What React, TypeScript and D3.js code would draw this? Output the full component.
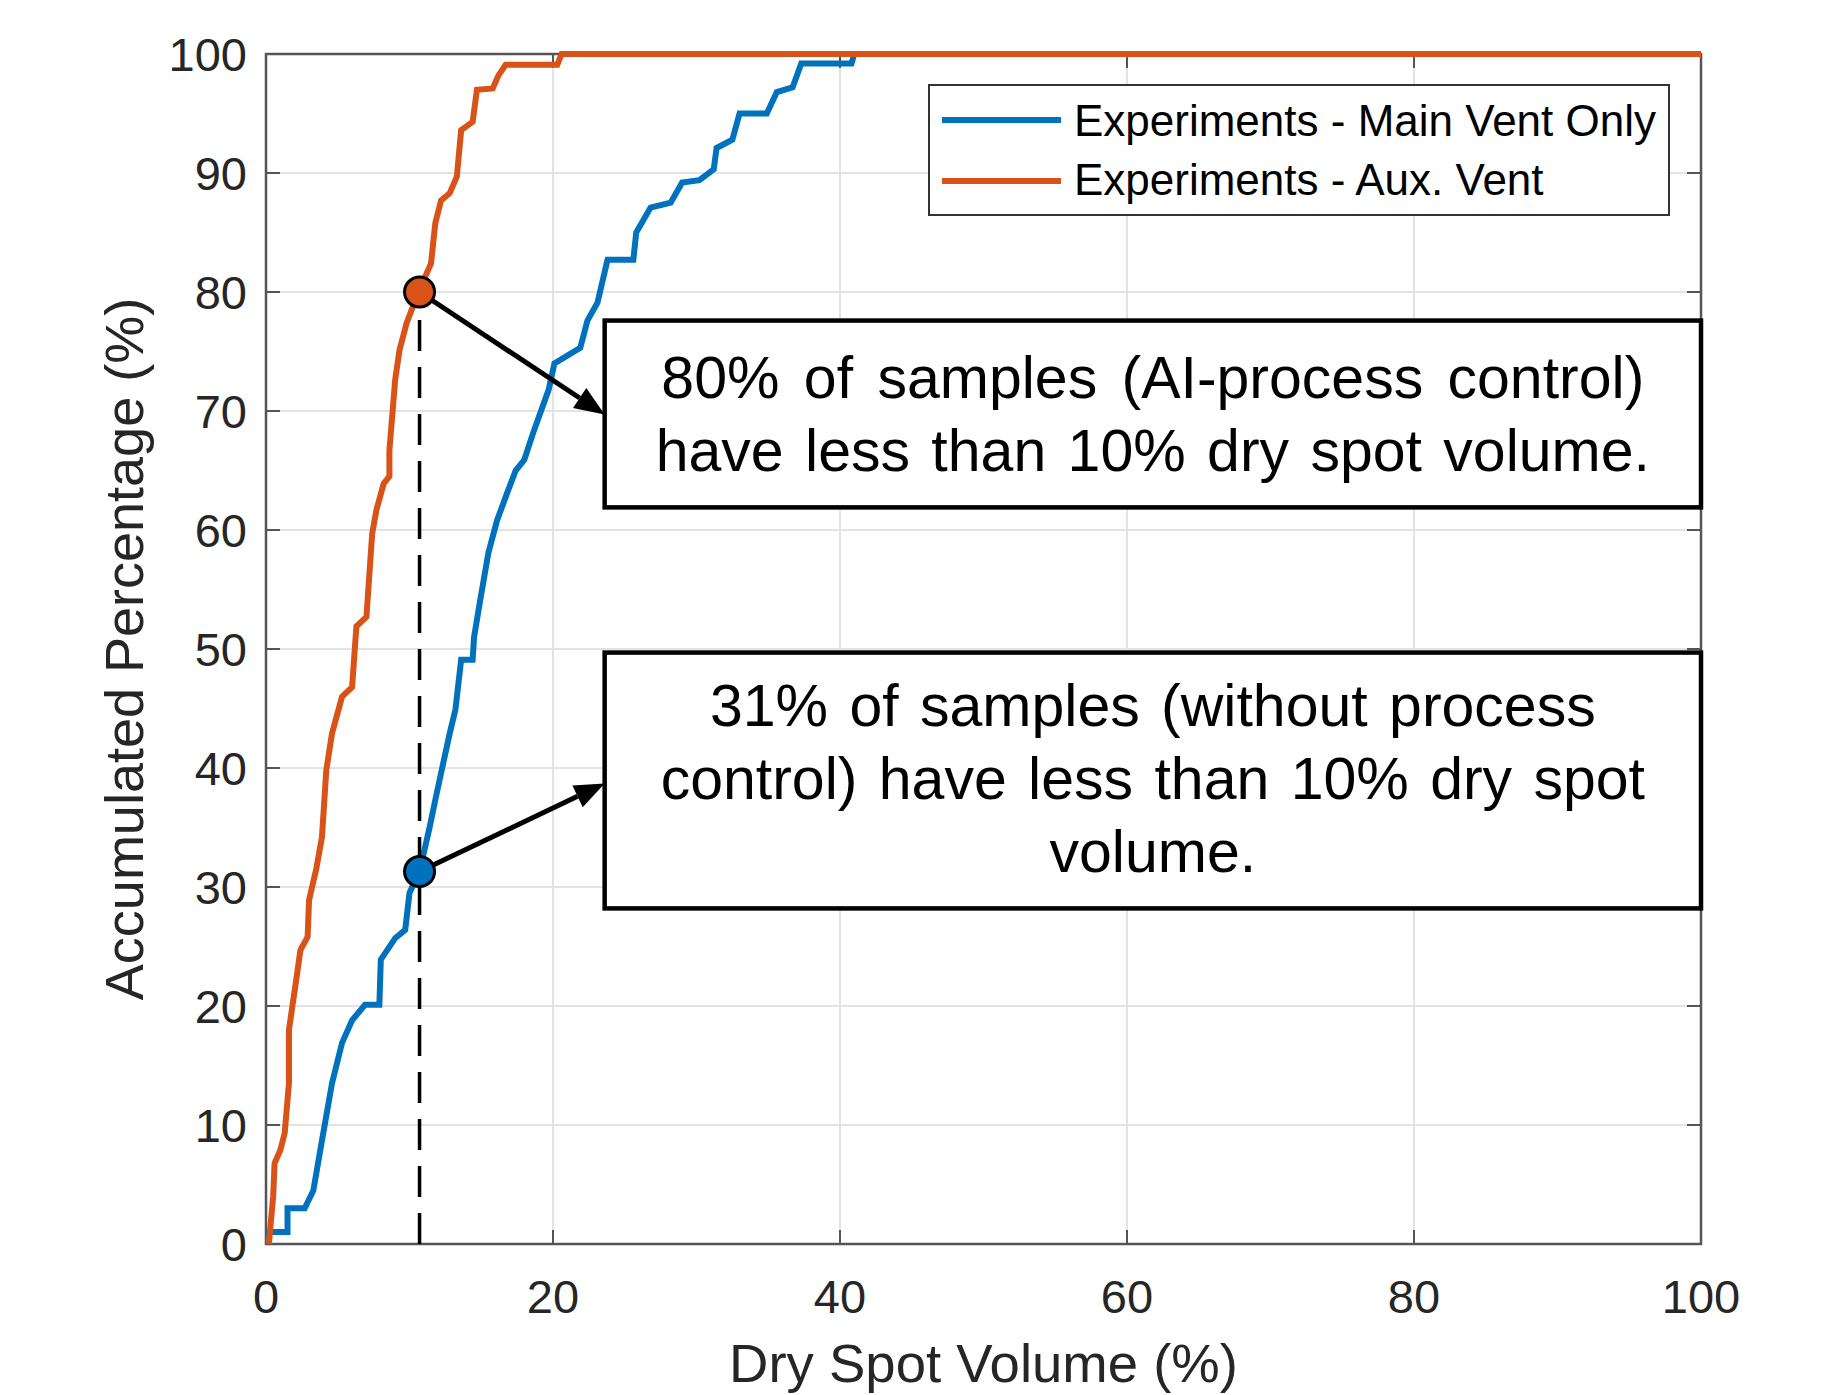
import React from "react";
import * as d3 from "d3";

// ---- data ----
const blueX = [0.2, 0.2, 1.5, 1.5, 2.7, 3.3, 3.9, 4.6, 5.3, 6.0, 6.9, 7.9, 8.0, 9.0, 9.7, 10.0, 10.7, 11.4, 11.9, 12.8, 13.2, 13.6, 14.4, 14.5, 14.9, 15.5, 16.1, 16.8, 17.4, 18.0, 18.6, 19.1, 19.7, 20.1, 21.9, 22.4, 23.1, 23.8, 25.6, 25.8, 26.8, 28.2, 29.0, 30.2, 31.2, 31.4, 32.5, 33.0, 34.9, 35.6, 36.7, 37.3, 40.8, 41.0, 100];
const blueY = [0, 1.0, 1.0, 3.0, 3.0, 4.5, 8.7, 13.5, 16.9, 18.8, 20.1, 20.1, 23.9, 25.7, 26.4, 29.5, 31.3, 35.0, 37.9, 42.9, 44.9, 49.1, 49.1, 51.0, 53.9, 58.1, 60.8, 63.1, 65.0, 65.9, 68.1, 69.8, 71.8, 74.0, 75.3, 77.6, 79.1, 82.7, 82.7, 85.0, 87.1, 87.5, 89.2, 89.4, 90.3, 92.1, 92.8, 95.0, 95.0, 96.8, 97.2, 99.2, 99.2, 100, 100];

const orangeX = [0.2, 0.5, 0.6, 1.0, 1.3, 1.6, 1.6, 1.9, 2.0, 2.4, 2.9, 3.0, 3.5, 3.9, 4.2, 4.6, 5.3, 6.0, 6.3, 7.0, 7.4, 7.7, 8.2, 8.6, 8.6, 9.0, 9.3, 9.8, 10.7, 11.5, 11.8, 12.2, 12.8, 13.3, 13.6, 14.4, 14.7, 15.8, 16.2, 16.7, 20.3, 20.6, 100];
const orangeY = [0, 4.0, 6.8, 7.9, 9.3, 13.5, 18.0, 20.5, 21.3, 24.7, 25.8, 28.9, 31.5, 34.2, 39.8, 42.9, 46.0, 46.8, 51.9, 52.7, 59.7, 61.7, 63.9, 64.5, 66.7, 72.6, 75.1, 77.4, 80.2, 82.4, 85.8, 87.7, 88.3, 89.7, 93.6, 94.3, 97.0, 97.1, 98.2, 99.1, 99.1, 100, 100];

const seriesNames = ["Experiments - Main Vent Only", "Experiments - Aux. Vent"];
const seriesColors = ["#0072BD", "#D95319"];

const xTicks = [0, 20, 40, 60, 80, 100];
const yTicks = [0, 10, 20, 30, 40, 50, 60, 70, 80, 90, 100];

const thresholdX = 10.7;
const markerY = [80, 31.3]; // orange, blue

const box1Lines = ["80% of samples (AI-process control)", "have less than 10% dry spot volume."];
const box2Lines = ["31% of samples (without process", "control) have less than 10% dry spot", "volume."];
// annotation boxes in data coords: [x0, x1, yTop, yBottom]
const box1 = [23.6, 100, 77.6, 61.9];
const box2 = [23.6, 100, 49.7, 28.2];
const arrowTipY = [69.7, 38.7];

const W = 1828, H = 1395;
const L = 266, R = 1701, T = 54, B = 1244;

export default function App() {
  const x = d3.scaleLinear().domain([0, 100]).range([L, R]);
  const y = d3.scaleLinear().domain([0, 100]).range([B, T]);
  const line = d3.line<[number, number]>().x(d => x(d[0])).y(d => y(d[1]));
  const blue = blueX.map((v, i) => [v, blueY[i]] as [number, number]);
  const orange = orangeX.map((v, i) => [v, orangeY[i]] as [number, number]);
  const font = "'Liberation Sans', Arial, Helvetica, sans-serif";
  const axisColor = "#555";
  const tick = 14;

  const arrow = (x1: number, y1: number, x2: number, y2: number, key: string) => {
    const ang = Math.atan2(y2 - y1, x2 - x1);
    const len = 30, hw = 12;
    const bx = x2 - len * Math.cos(ang), by = y2 - len * Math.sin(ang);
    const px = -Math.sin(ang), py = Math.cos(ang);
    return (
      <g key={key}>
        <line x1={x1} y1={y1} x2={bx} y2={by} stroke="#000" strokeWidth={5} />
        <path d={`M${x2},${y2}L${bx + px * hw},${by + py * hw}L${bx - px * hw},${by - py * hw}Z`} fill="#000" />
      </g>
    );
  };

  const drawBox = (b: number[], lines: string[], firstBaseline: number, key: string, ws: number[]) => {
    const cx = (x(b[0]) + x(b[1])) / 2;
    return (
      <g key={key}>
        <rect x={x(b[0])} y={y(b[2])} width={x(b[1]) - x(b[0])} height={y(b[3]) - y(b[2])} fill="#fff" stroke="#000" strokeWidth={4.5} />
        {lines.map((t, i) => (
          <text key={i} x={cx} y={firstBaseline + i * 73} textAnchor="middle" fontFamily={font} fontSize={59} wordSpacing={ws[i]} fill="#000">{t}</text>
        ))}
      </g>
    );
  };

  return (
    <svg width={W} height={H} style={{ position: "absolute", left: 0, top: 0, background: "#fff" }}>
      <rect x={0} y={0} width={W} height={H} fill="#fff" />
      {/* grid */}
      {xTicks.map(t => (
        <line key={"gx" + t} x1={x(t)} x2={x(t)} y1={T} y2={B} stroke="#e3e3e3" strokeWidth={2} />
      ))}
      {yTicks.map(t => (
        <line key={"gy" + t} x1={L} x2={R} y1={y(t)} y2={y(t)} stroke="#e3e3e3" strokeWidth={2} />
      ))}
      {/* axes box */}
      <rect x={L} y={T} width={R - L} height={B - T} fill="none" stroke={axisColor} strokeWidth={2.5} />
      {xTicks.map(t => (
        <g key={"tx" + t}>
          <line x1={x(t)} x2={x(t)} y1={B} y2={B - tick} stroke={axisColor} strokeWidth={2} />
          <line x1={x(t)} x2={x(t)} y1={T} y2={T + tick} stroke={axisColor} strokeWidth={2} />
          <text x={x(t)} y={1313} textAnchor="middle" fontFamily={font} fontSize={47} fill="#262626">{t}</text>
        </g>
      ))}
      {yTicks.map(t => (
        <g key={"ty" + t}>
          <line x1={L} x2={L + tick} y1={y(t)} y2={y(t)} stroke={axisColor} strokeWidth={2} />
          <line x1={R} x2={R - tick} y1={y(t)} y2={y(t)} stroke={axisColor} strokeWidth={2} />
          <text x={247} y={y(t) + 17} textAnchor="end" fontFamily={font} fontSize={47} fill="#262626">{t}</text>
        </g>
      ))}
      {/* axis labels */}
      <text x={(L + R) / 2} y={1382} textAnchor="middle" fontFamily={font} fontSize={54.5} fill="#262626">Dry Spot Volume (%)</text>
      <text transform={`translate(143,${(T + B) / 2}) rotate(-90)`} textAnchor="middle" fontFamily={font} fontSize={54} fill="#262626">Accumulated Percentage (%)</text>

      {/* curves */}
      <path d={line(blue) || ""} fill="none" stroke={seriesColors[0]} strokeWidth={6} strokeLinejoin="miter" />
      <path d={line(orange) || ""} fill="none" stroke={seriesColors[1]} strokeWidth={6} strokeLinejoin="miter" />

      {/* threshold dashed line */}
      <line x1={x(thresholdX)} x2={x(thresholdX)} y1={y(0)} y2={y(markerY[0])} stroke="#000" strokeWidth={3.5} strokeDasharray="31 16" />

      {/* annotation boxes */}
      {drawBox(box1, box1Lines, 398, "b1", [8, 5])}
      {drawBox(box2, box2Lines, 726, "b2", [5, 5, 5])}

      {/* arrows */}
      {arrow(x(thresholdX), y(markerY[0]), x(box1[0]), y(arrowTipY[0]), "a1")}
      {arrow(x(thresholdX), y(markerY[1]), x(box2[0]), y(arrowTipY[1]), "a2")}

      {/* markers */}
      <circle cx={x(thresholdX)} cy={y(markerY[0])} r={15} fill={seriesColors[1]} stroke="#000" strokeWidth={3} />
      <circle cx={x(thresholdX)} cy={y(markerY[1])} r={15} fill={seriesColors[0]} stroke="#000" strokeWidth={3} />

      {/* legend */}
      <rect x={929} y={85} width={740} height={130} fill="#fff" stroke="#333" strokeWidth={2} />
      {seriesNames.map((n, i) => (
        <g key={n}>
          <line x1={942} x2={1061} y1={120 + i * 61} y2={120 + i * 61} stroke={seriesColors[i]} strokeWidth={6} />
          <text x={1074} y={136 + i * 59} fontFamily={font} fontSize={44} fill="#000">{n}</text>
        </g>
      ))}
    </svg>
  );
}
